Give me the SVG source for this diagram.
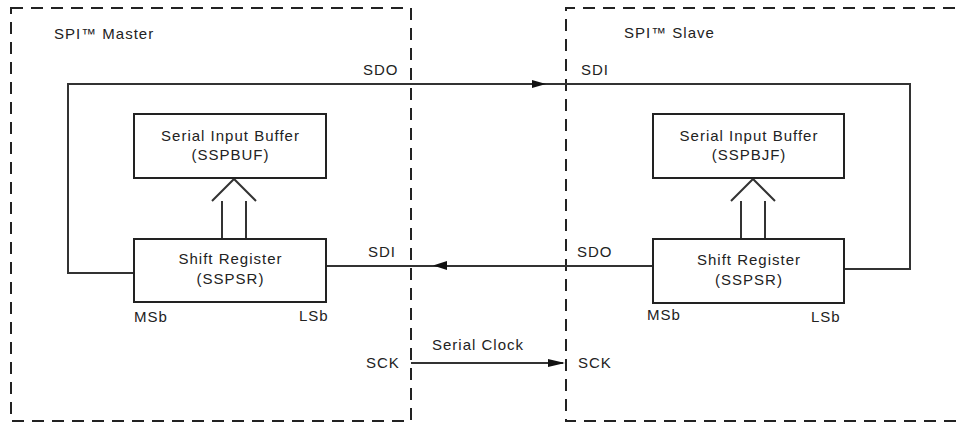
<svg xmlns="http://www.w3.org/2000/svg" width="963" height="425" viewBox="0 0 963 425">
<style>
text{font-family:"Liberation Sans",Arial,sans-serif;font-size:15px;fill:#222;letter-spacing:1px}
.c{text-anchor:middle}
.dash{fill:none;stroke:#222;stroke-width:2;stroke-dasharray:12 8}
.box{fill:#fff;stroke:#222;stroke-width:2}
.ln{fill:none;stroke:#333;stroke-width:2}
.ah{fill:#111;stroke:none}
</style>
<rect width="963" height="425" fill="#fff"/>
<g id="master">
<rect class="dash" x="11" y="8" width="400" height="413"/>
<text x="54" y="39">SPI™ Master</text>
</g>
<g id="slave">
<path class="dash" d="M975 8H566V421H975"/>
<text x="624" y="38">SPI™ Slave</text>
</g>
<g id="connectors">
<path class="ln" d="M134 273H68V84H910V269H844"/>
<polygon class="ah" points="532,80 546,84 532,88"/>
<path class="ln" d="M326 266H653"/>
<polygon class="ah" points="447,261 433,265.5 447,270"/>
<path class="ln" d="M411 363H563"/>
<polygon class="ah" points="548,359 565,363 548,367"/>
<path class="ln" d="M222 239V201M246 239V201M212 201L234 179L256 201"/>
<path class="ln" d="M741 239V201M765 239V201M731 201L753 179L775 201"/>
</g>
<g id="master-buffer">
<rect class="box" x="134" y="114" width="192" height="64"/>
<text class="c" x="230.5" y="141">Serial Input Buffer</text>
<text class="c" x="230.5" y="160">(SSPBUF)</text>
</g>
<g id="master-shift">
<rect class="box" x="134" y="239" width="192" height="63"/>
<text class="c" x="230.5" y="264">Shift Register</text>
<text class="c" x="230.5" y="284">(SSPSR)</text>
</g>
<g id="slave-buffer">
<rect class="box" x="653" y="114" width="191" height="64"/>
<text class="c" x="749" y="141">Serial Input Buffer</text>
<text class="c" x="749" y="160">(SSPBJF)</text>
</g>
<g id="slave-shift">
<rect class="box" x="653" y="239" width="191" height="64"/>
<text class="c" x="749" y="265">Shift Register</text>
<text class="c" x="749" y="285">(SSPSR)</text>
</g>
<g id="labels">
<text x="363" y="75">SDO</text>
<text x="581" y="75">SDI</text>
<text x="368" y="257">SDI</text>
<text x="577" y="257">SDO</text>
<text x="134" y="322">MSb</text>
<text x="299" y="321">LSb</text>
<text x="647" y="320">MSb</text>
<text x="811" y="322">LSb</text>
<text x="432" y="350">Serial Clock</text>
<text x="366" y="368">SCK</text>
<text x="578" y="368">SCK</text>
</g>
</svg>
